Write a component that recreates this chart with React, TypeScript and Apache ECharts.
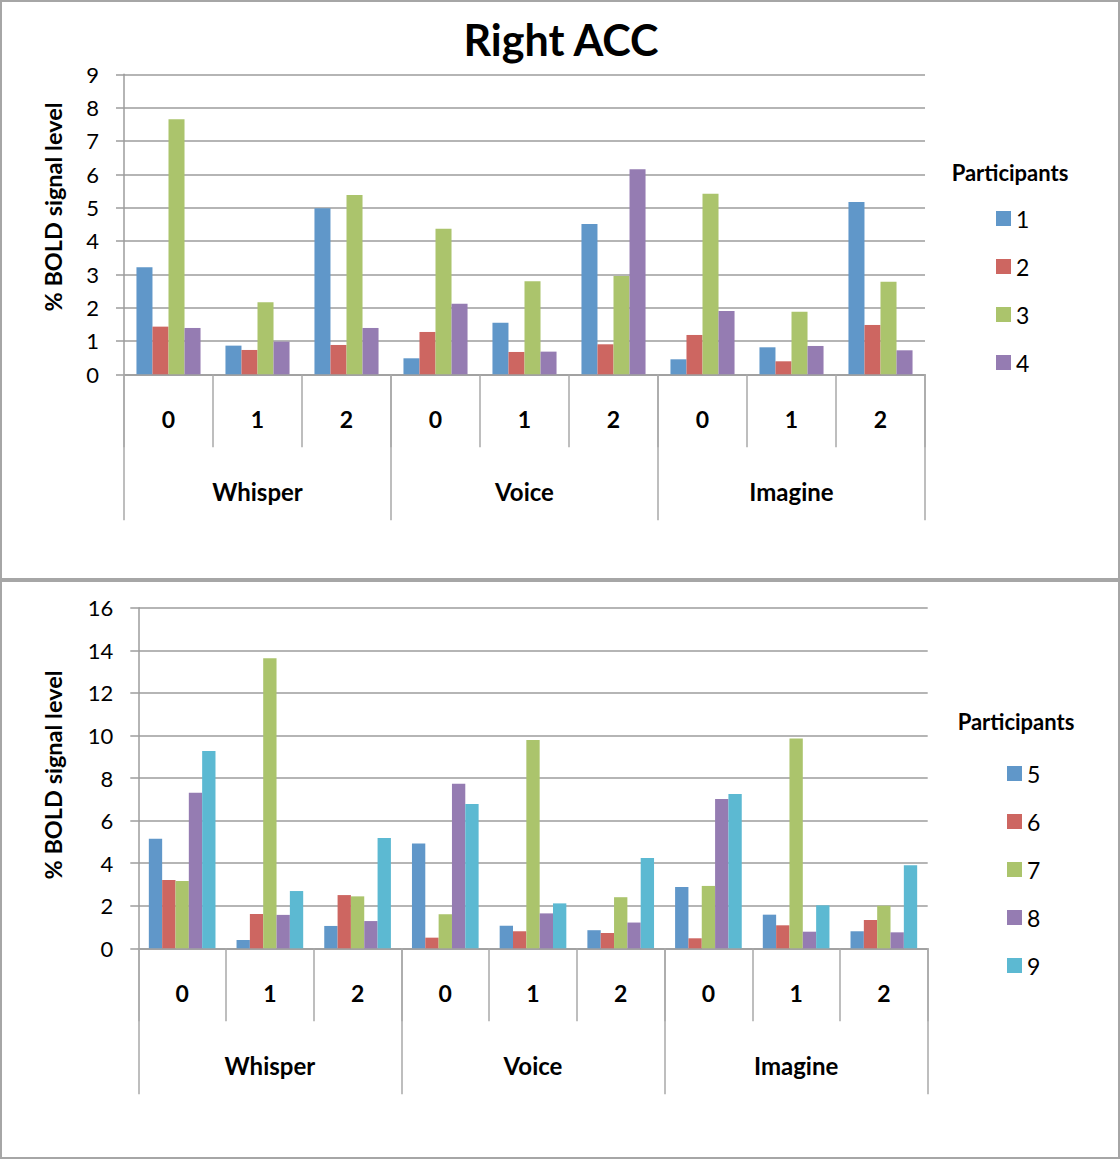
import React, { useEffect, useRef } from "react";
import * as echarts from "echarts";

const conditions = ["0", "1", "2", "0", "1", "2", "0", "1", "2"];
const groups = ["Whisper", "Voice", "Imagine"];

const topParticipants = ["1", "2", "3", "4"];
const p1 = [3.21, 0.86, 4.98, 0.48, 1.55, 4.51, 0.45, 0.81, 5.17];
const p2 = [1.43, 0.73, 0.88, 1.27, 0.67, 0.9, 1.18, 0.39, 1.48];
const p3 = [7.65, 2.16, 5.38, 4.37, 2.79, 2.95, 5.42, 1.88, 2.78];
const p4 = [1.39, 0.98, 1.39, 2.12, 0.68, 6.15, 1.9, 0.85, 0.72];

const bottomParticipants = ["5", "6", "7", "8", "9"];
const p5 = [5.15, 0.39, 1.05, 4.92, 1.06, 0.85, 2.88, 1.58, 0.8];
const p6 = [3.21, 1.61, 2.5, 0.5, 0.8, 0.72, 0.47, 1.08, 1.33];
const p7 = [3.16, 13.62, 2.44, 1.6, 9.78, 2.4, 2.93, 9.86, 2.0];
const p8 = [7.31, 1.57, 1.28, 7.73, 1.64, 1.21, 7.01, 0.78, 0.75];
const p9 = [9.27, 2.69, 5.18, 6.78, 2.11, 4.24, 7.25, 2.02, 3.9];

const topValues = [p1, p2, p3, p4];
const bottomValues = [p5, p6, p7, p8, p9];

const colors = ["#6097C9", "#CD6661", "#ABC46C", "#957CB2", "#5CB9D2"];

const FONT = "Lato, 'Open Sans', sans-serif";
const GRID_COLOR = "#9c9c9c";
const TICK_COLOR = "#a8a8a8";

function catAxes(gridIndex: number) {
  return [
    {
      gridIndex,
      type: "category",
      data: conditions,
      position: "bottom",
      axisLine: { show: true, lineStyle: { color: GRID_COLOR, width: 1.5 } },
      axisTick: { show: true, interval: 0, length: 73, lineStyle: { color: TICK_COLOR, width: 1.5 } },
      axisLabel: { interval: 0, margin: 33, fontSize: 23, lineHeight: 23, fontWeight: "bold", color: "#000", fontFamily: FONT },
      splitLine: { show: false },
    },
    {
      gridIndex,
      type: "category",
      data: groups,
      position: "bottom",
      offset: 0,
      axisLine: { show: false },
      axisTick: { show: true, interval: 0, length: 146, lineStyle: { color: TICK_COLOR, width: 1.5 } },
      axisLabel: { interval: 0, margin: 105, fontSize: 24, lineHeight: 24, fontWeight: "bold", color: "#000", fontFamily: FONT },
      splitLine: { show: false },
    },
  ];
}

function valAxis(gridIndex: number, max: number, interval: number) {
  return {
    gridIndex,
    type: "value",
    min: 0,
    max,
    interval,
    axisLine: { show: true, lineStyle: { color: GRID_COLOR, width: 1.5 } },
    axisTick: { show: true, length: 8, lineStyle: { color: GRID_COLOR, width: 1.5 } },
    splitLine: { show: true, lineStyle: { color: GRID_COLOR, width: 1.5 } },
    axisLabel: { margin: 25, fontSize: 22, color: "#000", fontFamily: FONT },
  };
}

export default function App() {
  const ref = useRef<HTMLDivElement>(null);

  useEffect(() => {
    if (!ref.current) return;
    const chart = echarts.init(ref.current, null, { renderer: "svg" });

    const series: any[] = [];
    topParticipants.forEach((name, i) => {
      series.push({
        name,
        type: "bar",
        xAxisIndex: 0,
        yAxisIndex: 0,
        data: topValues[i],
        barGap: "0%",
        barCategoryGap: "28%",
        itemStyle: { color: colors[i] },
      });
    });
    bottomParticipants.forEach((name, i) => {
      series.push({
        name,
        type: "bar",
        xAxisIndex: 2,
        yAxisIndex: 1,
        data: bottomValues[i],
        barGap: "0%",
        barCategoryGap: "24%",
        itemStyle: { color: colors[i] },
      });
    });

    const legendBase = {
      orient: "vertical",
      icon: "rect",
      itemWidth: 15,
      itemHeight: 15,
      padding: 0,
      selectedMode: false,
      textStyle: { fontSize: 23, lineHeight: 23, color: "#000", fontFamily: FONT },
    };

    const border = { stroke: "#a6a6a6", lineWidth: 2 };

    const option: any = {
      animation: false,
      backgroundColor: "#fff",
      textStyle: { fontFamily: FONT },
      grid: [
        { left: 124, top: 74.3, width: 801, height: 300 },
        { left: 138.3, top: 607.7, width: 789.4, height: 340.6 },
      ],
      xAxis: [...catAxes(0), ...catAxes(1)],
      yAxis: [valAxis(0, 9, 1), valAxis(1, 16, 2)],
      legend: [
        { ...legendBase, data: topParticipants, left: 996, top: 207, itemGap: 25 },
        { ...legendBase, data: bottomParticipants, left: 1007, top: 762, itemGap: 25 },
      ],
      series,
      graphic: [
        { type: "line", shape: { x1: 1, y1: 1, x2: 1119, y2: 1 }, style: border, silent: true },
        { type: "line", shape: { x1: 1, y1: 0, x2: 1, y2: 1159 }, style: border, silent: true },
        { type: "line", shape: { x1: 1119, y1: 0, x2: 1119, y2: 1159 }, style: border, silent: true },
        { type: "line", shape: { x1: 0, y1: 1158, x2: 1120, y2: 1158 }, style: border, silent: true },
        { type: "line", shape: { x1: 0, y1: 580, x2: 1120, y2: 580 }, style: { stroke: "#a6a6a6", lineWidth: 4 }, silent: true },
        {
          type: "text",
          x: 561,
          y: 39,
          style: { text: "Right ACC", font: `bold 43px ${FONT}`, fill: "#000", textAlign: "center", textVerticalAlign: "middle" },
        },
        {
          type: "text",
          x: 1010,
          y: 172,
          style: { text: "Participants", font: `bold 22px ${FONT}`, fill: "#000", textAlign: "center", textVerticalAlign: "middle" },
        },
        {
          type: "text",
          x: 1016,
          y: 721,
          style: { text: "Participants", font: `bold 22px ${FONT}`, fill: "#000", textAlign: "center", textVerticalAlign: "middle" },
        },
        {
          type: "text",
          x: 52.5,
          y: 207,
          rotation: Math.PI / 2,
          style: { text: "% BOLD signal level", font: `bold 23.5px ${FONT}`, fill: "#000", textAlign: "center", textVerticalAlign: "middle" },
        },
        {
          type: "text",
          x: 52.5,
          y: 775,
          rotation: Math.PI / 2,
          style: { text: "% BOLD signal level", font: `bold 23.5px ${FONT}`, fill: "#000", textAlign: "center", textVerticalAlign: "middle" },
        },
      ],
    };

    chart.setOption(option);
    return () => chart.dispose();
  }, []);

  return (
    <div
      ref={ref}
      style={{ position: "absolute", left: 0, top: 0, width: 1120, height: 1159, background: "#fff" }}
    />
  );
}
